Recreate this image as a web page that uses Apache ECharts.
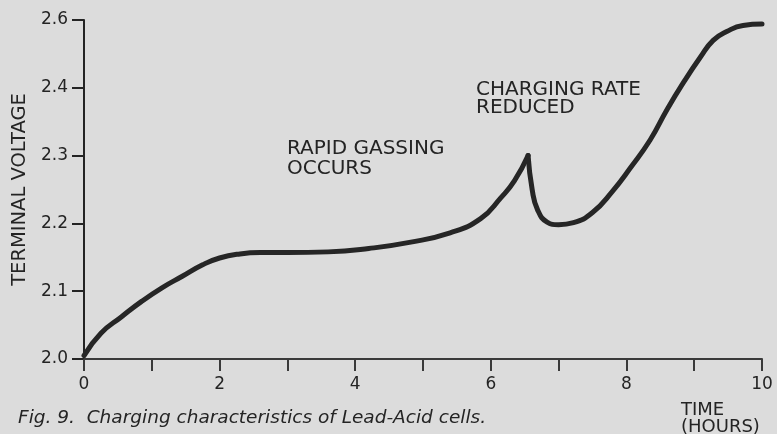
<!DOCTYPE html>
<html>
<head>
<meta charset="utf-8">
<script src="https://cdn.jsdelivr.net/npm/echarts@6/dist/echarts.min.js"></script>
<style>
  html, body { margin: 0; padding: 0; background: #dcdcdc; }
  #chart { width: 777px; height: 434px; }
</style>
</head>
<body>
<div id="chart"></div>
<script>
// Charging curve of a lead-acid cell: terminal voltage (V) against time (hours).
// Rising part, up to the point where the charging rate is cut back.
const riseHours = [0, 0.25, 0.55, 0.85, 1.15, 1.45, 1.75, 2.0, 2.3, 2.6, 3.0, 3.6, 4.2, 4.8, 5.4, 5.85, 6.15, 6.35, 6.55];
const riseVolts = [2.005, 2.038, 2.062, 2.085, 2.105, 2.122, 2.139, 2.149, 2.155, 2.157, 2.157, 2.158, 2.163, 2.172, 2.186, 2.207, 2.238, 2.263, 2.300];
// After the rate is reduced: drop, then climb to the final plateau.
const fallHours = [6.55, 6.61, 6.69, 6.83, 7.0, 7.22, 7.5, 7.8, 8.06, 8.35, 8.6, 8.84, 9.09, 9.28, 9.48, 9.72, 10.0];
const fallVolts = [2.300, 2.250, 2.220, 2.202, 2.198, 2.201, 2.216, 2.248, 2.282, 2.323, 2.368, 2.415, 2.490, 2.540, 2.566, 2.584, 2.588];

const voltTicks = [2.0, 2.1, 2.2, 2.3, 2.4, 2.6];
const hourLabels = [0, 2, 4, 6, 8, 10];

// The voltage scale is compressed above 2.4 V (2.4 -> 2.6 takes one step).
const BREAK = 2.4;
function toAxis(v) { return v <= BREAK ? v : BREAK + (v - BREAK) / 2; }
function fromAxis(p) { return p <= BREAK + 1e-9 ? p : BREAK + (p - BREAK) * 2; }

const ink = '#242424';
const font = 'DejaVu Sans';

const pairs = (xs, ys) => xs.map((x, i) => [x, toAxis(ys[i])]);

const curveStyle = { color: '#262626', width: 5, cap: 'round', join: 'round' };

const chart = echarts.init(document.getElementById('chart'), null, { renderer: 'canvas' });
chart.setOption({
  animation: false,
  backgroundColor: '#dcdcdc',
  grid: { left: 84, right: 15, top: 20, bottom: 75, containLabel: false },
  xAxis: {
    type: 'value',
    min: 0, max: 10, interval: 1,
    axisLine: { show: true, lineStyle: { color: '#3a3a3a', width: 2 } },
    axisTick: { show: true, length: 12, lineStyle: { color: '#3a3a3a', width: 2 } },
    splitLine: { show: false },
    axisLabel: {
      margin: 17, color: ink, fontFamily: font, fontSize: 17,
      formatter: v => {
        const r = Math.round(v);
        return Math.abs(v - r) < 1e-6 && hourLabels.indexOf(r) >= 0 ? String(r) : '';
      }
    }
  },
  yAxis: {
    type: 'value',
    min: 2.0, max: toAxis(voltTicks[voltTicks.length - 1]), interval: 0.1,
    name: 'TERMINAL VOLTAGE',
    nameLocation: 'middle', nameRotate: 90, nameGap: 53,
    nameTextStyle: { color: ink, fontFamily: font, fontSize: 19.5 },
    axisLine: { show: true, lineStyle: { color: ink, width: 2 } },
    axisTick: { show: true, length: 12, lineStyle: { color: ink, width: 2 } },
    splitLine: { show: false },
    axisLabel: {
      margin: 16, color: ink, fontFamily: font, fontSize: 17,
      formatter: p => fromAxis(p).toFixed(1)
    }
  },
  series: [
    {
      type: 'line', data: pairs(riseHours, riseVolts),
      smooth: 0.5, showSymbol: false, lineStyle: curveStyle
    },
    {
      type: 'line', data: pairs(fallHours, fallVolts),
      smooth: 0.5, showSymbol: false, lineStyle: curveStyle
    }
  ],
  graphic: [
    {
      type: 'text', left: 287, top: 139,
      style: { text: 'RAPID GASSING\nOCCURS', fill: ink, fontFamily: font, fontSize: 20, lineHeight: 20 }
    },
    {
      type: 'text', left: 476, top: 80,
      style: { text: 'CHARGING RATE\nREDUCED', fill: ink, fontFamily: font, fontSize: 20, lineHeight: 18 }
    },
    {
      type: 'text', left: 681, top: 401,
      style: { text: 'TIME\n(HOURS)', fill: ink, fontFamily: font, fontSize: 18, lineHeight: 17 }
    },
    {
      type: 'text', left: 18, top: 409,
      style: { text: 'Fig. 9.  Charging characteristics of Lead-Acid cells.', fill: ink, fontFamily: font, fontStyle: 'italic', fontSize: 18.5 }
    }
  ]
});
</script>
</body>
</html>
